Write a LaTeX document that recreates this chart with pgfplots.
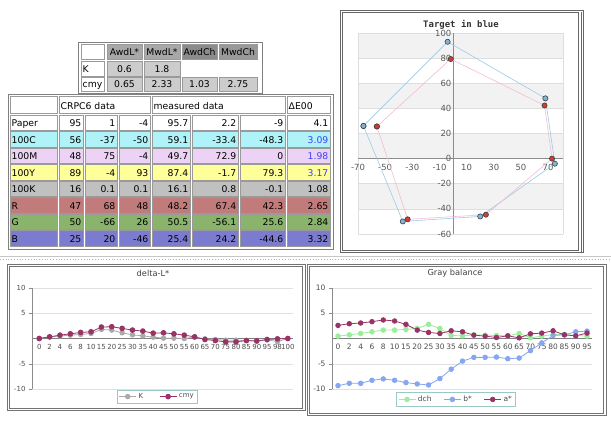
\documentclass[border=0pt]{standalone}
\usepackage{pgfplots}
\usepackage{pgfplotstable}
\pgfplotsset{compat=1.18}
\usepackage{fontspec}
\setmainfont{DejaVu Sans}
\setmonofont{DejaVu Sans Mono}

\definecolor{cellb}{HTML}{9A9A9A}
\definecolor{hdrA}{HTML}{A8A8A8}
\definecolor{hdrB}{HTML}{8C8C8C}
\definecolor{hdrC}{HTML}{999999}
\definecolor{valbg}{HTML}{CCCCCC}
\definecolor{cbg}{HTML}{AFF2F8}
\definecolor{mbg}{HTML}{ECD2F4}
\definecolor{ybg}{HTML}{FFFF99}
\definecolor{kbg}{HTML}{C0C0C0}
\definecolor{rbg}{HTML}{C27B7B}
\definecolor{gbg}{HTML}{8AB46C}
\definecolor{bbg}{HTML}{7B7BCF}
\definecolor{debl}{HTML}{3F3FFF}
\definecolor{tgtline}{HTML}{9CCBE6}
\definecolor{tgtfill}{HTML}{7FB3D8}
\definecolor{msline}{HTML}{F2BCD8}
\definecolor{msfill}{HTML}{D63A2E}
\definecolor{kcol}{HTML}{AAAAAA}
\definecolor{cmycol}{HTML}{993366}
\definecolor{dchcol}{HTML}{99EE99}
\definecolor{bscol}{HTML}{86A6F2}
\definecolor{legb}{HTML}{99C9C4}

\pgfplotstableread{
idx K cmy
0 0 0
1 0.3 0.33
2 0.5 0.67
3 0.67 0.93
4 0.8 1.2
5 1.0 1.33
6 1.8 2.27
7 1.67 2.33
8 1.13 2.0
9 0.73 1.67
10 0.53 1.47
11 0.27 1.07
12 0.07 1.13
13 0.07 0.93
14 0 0.67
15 0.27 0.33
16 -0.07 -0.2
17 -0.2 -0.4
18 -0.33 -0.67
19 -0.33 -0.67
20 -0.4 -0.4
21 -0.53 -0.47
22 -0.27 -0.2
23 -0.6 -0.07
24 0 0
}\dL

\pgfplotstableread{
idx dch bs as
0 0.47 -9.33 2.6
1 0.73 -8.87 2.93
2 1.0 -8.87 3.07
3 1.33 -8.27 3.33
4 1.67 -8.0 3.67
5 1.67 -8.27 3.47
6 1.8 -8.73 2.8
7 2.0 -9.0 1.67
8 2.8 -9.2 1.2
9 2.0 -7.93 1.0
10 0.6 -6.07 1.53
11 0.53 -4.47 1.33
12 0.73 -3.73 0.67
13 0.67 -3.73 0.47
14 0.6 -3.67 0.2
15 0.53 -4.0 0.53
16 1.0 -3.87 0.13
17 0.13 -2.4 0.93
18 0.47 -0.87 1.07
19 0.8 0.6 1.53
20 0.8 0.73 0.73
21 0.6 1.33 0.53
22 0.47 1.47 1.07
}\gb

% cell macros: x1 y1 x2 y2 fill text
\newcommand\cc[6]{\filldraw[fill=#5,draw=cellb,line width=0.6bp] (#1,#2) rectangle (#3,#4);
  \node[anchor=base,inner sep=0] at ({(#1+#3)/2},#4-3.9) {#6};}
\newcommand\cl[6]{\filldraw[fill=#5,draw=cellb,line width=0.6bp] (#1,#2) rectangle (#3,#4);
  \node[anchor=base west,inner sep=0] at (#1+1.5,#4-3.9) {#6};}
\newcommand\cR[6]{\filldraw[fill=#5,draw=cellb,line width=0.6bp] (#1,#2) rectangle (#3,#4);
  \node[anchor=base east,inner sep=0] at (#3-1.5,#4-3.9) {#6};}
% table row: top fill label six values
\newcommand\rw[9]{%
  \cl{10}{#1}{57}{#1+15.5}{#2}{#3}
  \cR{59}{#1}{83}{#1+15.5}{#2}{#4}
  \cR{85}{#1}{117}{#1+15.5}{#2}{#5}
  \cR{119}{#1}{150}{#1+15.5}{#2}{#6}
  \cR{152}{#1}{190}{#1+15.5}{#2}{#7}
  \cR{192}{#1}{238}{#1+15.5}{#2}{#8}
  \cR{240}{#1}{285}{#1+15.5}{#2}{#9}}
\newcommand\de[4]{\cR{287}{#1}{330}{#1+15.5}{#2}{\textcolor{#3}{#4}}}
\newcommand\ylab[1]{\node[anchor=east,inner sep=1.5bp,font=\fontsize{8.5}{10}\selectfont,text=black!65] at (axis cs:0,#1) {#1};}

\begin{document}
\begin{tikzpicture}[x=1bp,y=-1bp,font=\fontsize{9.3}{11}\selectfont]
\path[use as bounding box,fill=white] (0,0) rectangle (611,422);

% ---------- small table ----------
\draw[gray,line width=0.8bp] (78,42) rectangle (262,93);
\cc{81}{44}{104}{59}{white}{}
\cc{107}{44}{142}{59}{hdrA}{AwdL*}
\cc{144}{44}{180}{59}{hdrA}{MwdL*}
\cc{182}{44}{217}{59}{hdrB}{AwdCh}
\cc{219}{44}{257}{59}{hdrC}{MwdCh}
\cl{81}{61}{104}{76}{white}{K}
\cc{107}{61}{142}{76}{valbg}{0.6}
\cc{144}{61}{180}{76}{valbg}{1.8}
\cl{81}{77}{104}{91}{white}{cmy}
\cc{107}{77}{142}{91}{valbg}{0.65}
\cc{144}{77}{180}{91}{valbg}{2.33}
\cc{182}{77}{217}{91}{valbg}{1.03}
\cc{219}{77}{257}{91}{valbg}{2.75}

% ---------- main table ----------
\draw[gray,line width=0.8bp] (8,94) rectangle (333,249);
\cl{10}{96}{57}{113}{white}{}
\cl{59}{96}{150}{113}{white}{CRPC6 data}
\cl{152}{96}{285}{113}{white}{measured data}
\cl{287}{96}{330}{113}{white}{ΔE00}
\rw{115}{white}{Paper}{95}{1}{-4}{95.7}{2.2}{-9}\de{115}{white}{black}{4.1}
\rw{131.5}{cbg}{100C}{56}{-37}{-50}{59.1}{-33.4}{-48.3}\de{131.5}{cbg}{debl}{3.09}
\rw{148}{mbg}{100M}{48}{75}{-4}{49.7}{72.9}{0}\de{148}{mbg}{debl}{1.98}
\rw{164.5}{ybg}{100Y}{89}{-4}{93}{87.4}{-1.7}{79.3}\de{164.5}{ybg}{debl}{3.17}
\rw{181}{kbg}{100K}{16}{0.1}{0.1}{16.1}{0.8}{-0.1}\de{181}{kbg}{black}{1.08}
\rw{197.5}{rbg}{R}{47}{68}{48}{48.2}{67.4}{42.3}\de{197.5}{rbg}{black}{2.65}
\rw{214}{gbg}{G}{50}{-66}{26}{50.5}{-56.1}{25.6}\de{214}{gbg}{black}{2.84}
\rw{230.5}{bbg}{B}{25}{20}{-46}{25.4}{24.2}{-44.6}\de{230.5}{bbg}{black}{3.32}

% ---------- right panel frames ----------
\draw[black!60,line width=0.7bp] (340,10) rectangle (583,252);
\draw[black!60,line width=0.7bp] (342,12) rectangle (578,250);
\draw[black!60,line width=0.7bp] (581,12) -- (581,252);
\draw[black!22,line width=0.8bp] (0,256.8) -- (611,256.8);
\draw[black!30,dotted,line width=0.8bp] (0,259) -- (611,259);

% bottom panel frames
\draw[black!55,line width=0.6bp] (7,264) rectangle (305,410);
\draw[black!55,line width=0.6bp] (9.5,266) rectangle (302,408);
\draw[black!55,line width=0.6bp] (307,264) rectangle (606,415);
\draw[black!55,line width=0.6bp] (309,266) rectangle (603,413);

\node[font=\ttfamily\bfseries\fontsize{9}{10}\selectfont,text=black!80] at (461,25) {Target in blue};
\node[font=\fontsize{8.3}{10}\selectfont,text=black!75] at (153,273) {delta-L*};
\node[font=\fontsize{8.3}{10}\selectfont,text=black!75] at (455,273) {Gray balance};

% ---------- Target chart: background ----------
\begin{axis}[at={(358bp,-234bp)},anchor=south west,scale only axis,hide axis,
  width=205bp,height=201bp,xmin=-70,xmax=81,ymin=-60,ymax=100,clip=false]
\fill[black!5] (axis cs:-70,80) rectangle (axis cs:81,100);
\fill[black!5] (axis cs:-70,40) rectangle (axis cs:81,60);
\fill[black!5] (axis cs:-70,0) rectangle (axis cs:81,20);
\fill[black!5] (axis cs:-70,-20) rectangle (axis cs:81,-40);
\draw[black!13,line width=0.6bp] (axis cs:-70,-60) -- (axis cs:81,-60);
\draw[black!13,line width=0.6bp] (axis cs:-70,-40) -- (axis cs:81,-40);
\draw[black!13,line width=0.6bp] (axis cs:-70,-20) -- (axis cs:81,-20);
\draw[black!13,line width=0.6bp] (axis cs:-70,20) -- (axis cs:81,20);
\draw[black!13,line width=0.6bp] (axis cs:-70,40) -- (axis cs:81,40);
\draw[black!13,line width=0.6bp] (axis cs:-70,60) -- (axis cs:81,60);
\draw[black!13,line width=0.6bp] (axis cs:-70,80) -- (axis cs:81,80);
\draw[black!13,line width=0.6bp] (axis cs:-70,100) -- (axis cs:81,100);
\draw[black!13,line width=0.6bp] (axis cs:-70,-60) -- (axis cs:-70,100);
\draw[black!13,line width=0.6bp] (axis cs:81,-60) -- (axis cs:81,100);
\draw[black!45,line width=0.8bp] (axis cs:0,-60) -- (axis cs:0,100);
\draw[black!45,line width=0.8bp] (axis cs:-70,0) -- (axis cs:81,0);
\ylab{100}\ylab{80}\ylab{60}\ylab{40}\ylab{20}\ylab{0}\ylab{-20}\ylab{-40}\ylab{-60}
\end{axis}

% ---------- Target chart: ticks and data ----------
\begin{axis}[at={(358bp,-234bp)},anchor=south west,scale only axis,
  width=205bp,height=201bp,xmin=-70,xmax=81,ymin=-60,ymax=100,
  axis line style={draw=none},
  xtick={-70,-50,-30,-10,10,30,50,70},ytick=\empty,
  major tick length=0pt,
  tick label style={font=\fontsize{8.5}{10}\selectfont,text=black!65},
  xticklabel style={yshift=73bp},
  /pgf/number format/assume math mode=true,clip=false]
\addplot[color=tgtline,line width=0.6bp,mark=*,mark size=2.6bp,
  mark options={fill=tgtfill,draw=black!75,line width=0.6bp}]
  coordinates {(-66,26) (-4,93) (68,48) (75,-4) (20,-46) (-37,-50) (-66,26)};
\addplot[color=msline,line width=0.6bp,mark=*,mark size=2.6bp,
  mark options={fill=msfill,draw=black!75,line width=0.6bp}]
  coordinates {(-56.1,25.6) (-1.7,79.3) (67.4,42.3) (72.9,0) (24.2,-44.6) (-33.4,-48.3) (-56.1,25.6)};
\end{axis}

% ---------- delta-L* chart ----------
\begin{axis}[at={(32bp,-389bp)},anchor=south west,scale only axis,
  width=261bp,height=101bp,xmin=-0.7,xmax=24.5,ymin=-10,ymax=10,
  axis x line=middle,axis y line=left,
  axis line style={-,black!45,line width=0.6bp},
  x axis line style={black!50},
  xtick={0,...,24},
  xticklabels={0,2,4,6,8,10,15,20,25,30,35,40,45,50,55,60,65,70,75,80,85,90,95,98,100},
  ytick={-10,-5,5,10},minor y tick num=4,
  ymajorgrids,major grid style={black!12,line width=0.5bp},
  major x tick style={draw=none},
  tick align=outside,major tick length=3bp,minor tick length=1.8bp,
  tick style={black!45,line width=0.5bp},
  tick label style={font=\fontsize{7}{8}\selectfont,text=black!70},
  xticklabel style={inner sep=1bp,yshift=-1.5bp},
  hide obscured x ticks=false,
  /pgf/number format/assume math mode=true,clip=false,
  legend columns=2,
  legend style={at={(0.48,-0.005)},anchor=north,draw=legb,line width=0.6bp,
    font=\fontsize{7}{8}\selectfont,text=black!70,inner sep=1.5bp,
    /tikz/every even column/.append style={column sep=14bp}},
  legend cell align=left]
\addplot[color=kcol,line width=0.8bp,mark=*,mark size=2.3bp,mark options={fill=kcol}] table[x=idx,y=K]{\dL};
\addlegendentry{K}
\addplot[color=cmycol,line width=0.8bp,mark=*,mark size=2.4bp,mark options={fill=cmycol}] table[x=idx,y=cmy]{\dL};
\addlegendentry{cmy}
\end{axis}

% ---------- Gray balance chart ----------
\begin{axis}[at={(332bp,-389bp)},anchor=south west,scale only axis,
  width=260bp,height=101bp,xmin=-0.53,xmax=22.44,ymin=-10,ymax=10,
  axis x line=middle,axis y line=left,
  axis line style={-,black!45,line width=0.6bp},
  x axis line style={black!50},
  xtick={0,...,22},
  xticklabels={0,2,4,6,8,10,15,20,25,30,35,40,45,50,55,60,65,70,75,80,85,90,95},
  ytick={-10,-5,5,10},minor y tick num=4,
  ymajorgrids,major grid style={black!12,line width=0.5bp},
  major x tick style={draw=none},
  tick align=outside,major tick length=3bp,minor tick length=1.8bp,
  tick style={black!45,line width=0.5bp},
  tick label style={font=\fontsize{7.5}{8}\selectfont,text=black!70},
  xticklabel style={inner sep=1bp,yshift=-1.5bp},
  hide obscured x ticks=false,
  /pgf/number format/assume math mode=true,clip=false,
  legend columns=3,
  legend style={at={(0.477,-0.03)},anchor=north,draw=legb,line width=0.6bp,
    font=\fontsize{7.5}{8}\selectfont,text=black!70,inner sep=1.5bp,
    /tikz/every even column/.append style={column sep=10bp}},
  legend cell align=left]
\addplot[color=dchcol,line width=0.8bp,mark=*,mark size=2.3bp,mark options={fill=dchcol}] table[x=idx,y=dch]{\gb};
\addlegendentry{dch}
\addplot[color=bscol,line width=0.8bp,mark=*,mark size=2.3bp,mark options={fill=bscol}] table[x=idx,y=bs]{\gb};
\addlegendentry{b*}
\addplot[color=cmycol,line width=0.8bp,mark=*,mark size=2.3bp,mark options={fill=cmycol}] table[x=idx,y=as]{\gb};
\addlegendentry{a*}
\end{axis}
\end{tikzpicture}
\end{document}
